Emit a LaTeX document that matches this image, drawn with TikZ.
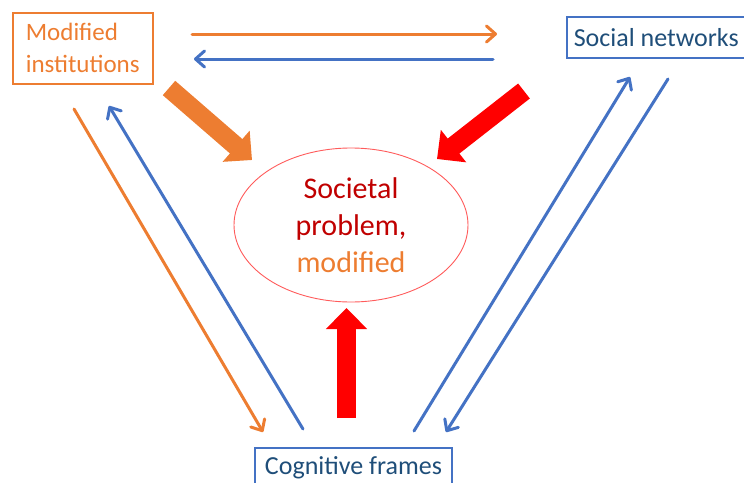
\documentclass[tikz,border=0pt]{standalone}
\usepackage{fontspec}
\setmainfont{Carlito}
\usetikzlibrary{arrows.meta,shapes.geometric}
\definecolor{orng}{HTML}{ED7D31}
\definecolor{blu}{HTML}{4472C4}
\definecolor{dblu}{HTML}{1F4E79}
\definecolor{dred}{HTML}{C00000}
\definecolor{bred}{HTML}{FF0000}
\definecolor{ellred}{HTML}{FF5B5B}
\begin{document}
\begin{tikzpicture}[x=1pt,y=-1pt,
  thinarrow/.style={line width=3pt, line cap=round, -{Straight Barb[length=9pt,width=16pt,round]}},
  fatarrow/.style={line width=19pt, -{Triangle[length=21pt,width=40pt]}},
  obox/.style={draw=orng, line width=1.5pt, text=orng},
  bbox/.style={draw=blu, line width=1.5pt, text=dblu}]
\useasboundingbox (0,0) rectangle (744,482);

\node[obox, anchor=north west, minimum width=140pt, minimum height=71pt, align=left,
  font=\fontsize{25}{32}\selectfont] (inst) at (12,12) {Modified\\institutions};
\node[bbox, anchor=north west, minimum height=41pt, inner xsep=7pt,
  font=\fontsize{26}{31}\selectfont] (soc) at (566,16) {Social networks};
\node[bbox, anchor=north, minimum width=197pt, minimum height=39pt,
  font=\fontsize{26}{31}\selectfont] (cog) at (353.5,447) {Cognitive frames};
\node[ellipse, draw=ellred, line width=0.9pt, minimum width=234pt, minimum height=154pt,
  inner sep=0pt, align=center, text=dred, font=\fontsize{30}{37}\selectfont]
  (prob) at (351,225) {Societal\\problem,\\\textcolor{orng}{modified}};

\coordinate (a1) at (192,34);  \coordinate (a2) at (497,34);
\coordinate (b1) at (493,59);  \coordinate (b2) at (194,59);
\coordinate (c1) at (74,109);  \coordinate (c2) at (263,432);
\coordinate (d1) at (303,429); \coordinate (d2) at (109,106);
\coordinate (e1) at (414,431); \coordinate (e2) at (630,77);
\coordinate (f1) at (668,79);  \coordinate (f2) at (446,432);

\draw[thinarrow, orng] (a1) -- (a2);
\draw[thinarrow, blu] (b1) -- (b2);
\draw[thinarrow, orng] (c1) -- (c2);
\draw[thinarrow, blu] (d1) -- (d2);
\draw[thinarrow, blu] (e1) -- (e2);
\draw[thinarrow, blu] (f1) -- (f2);

\coordinate (g1) at (169,88);   \coordinate (g2) at (252,160);
\coordinate (h1) at (524,91);   \coordinate (h2) at (437,159);
\coordinate (k1) at (346.5,418); \coordinate (k2) at (346.5,308);
\draw[fatarrow, orng] (g1) -- (g2);
\draw[fatarrow, bred] (h1) -- (h2);
\draw[fatarrow, bred] (k1) -- (k2);
\end{tikzpicture}
\end{document}
